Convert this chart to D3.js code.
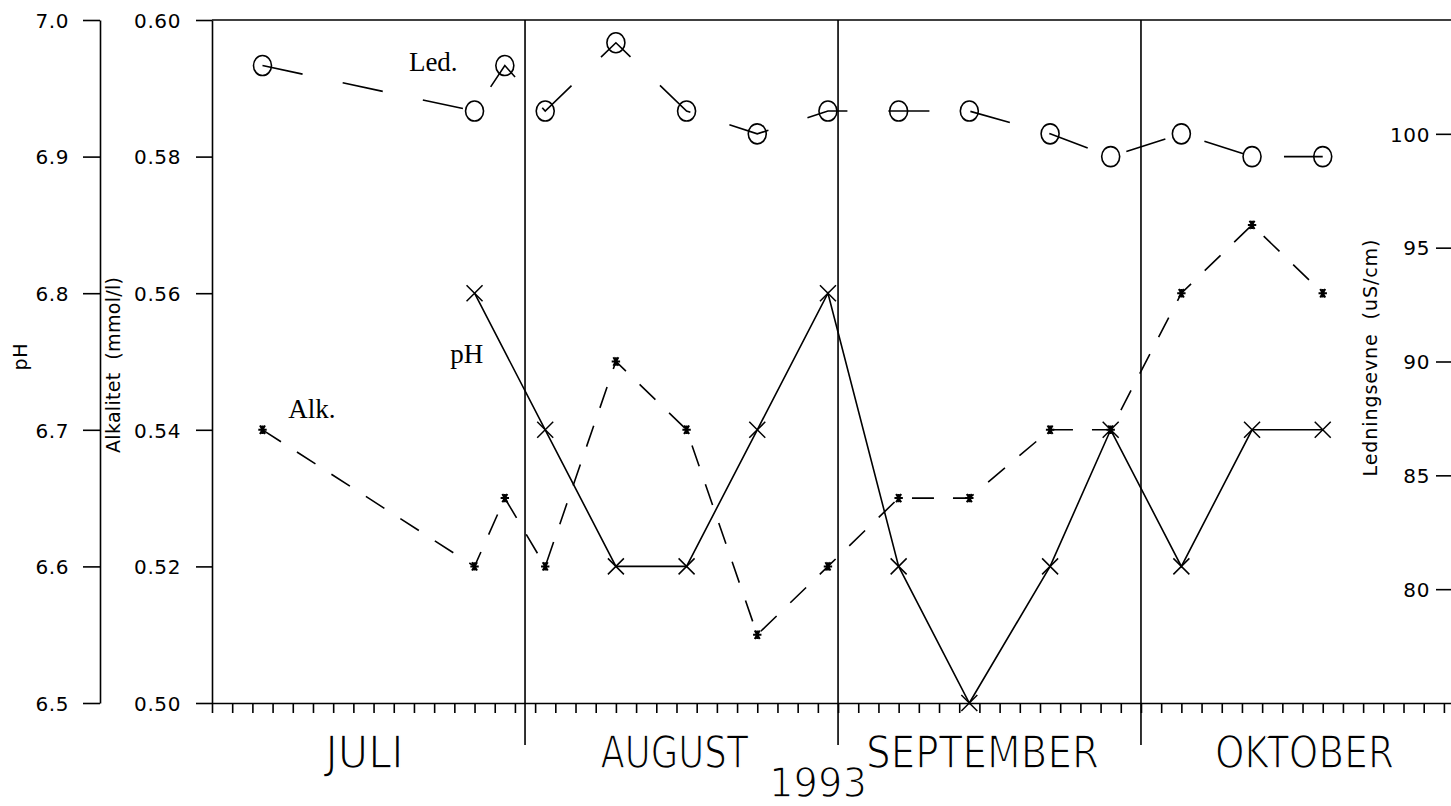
<!DOCTYPE html>
<html>
<head>
<meta charset="utf-8">
<script src="https://cdn.jsdelivr.net/npm/d3@7/dist/d3.min.js"></script>
<style>
  html, body { margin: 0; padding: 0; background: #fff; }
  svg { display: block; }
  .tick text { font-family: "DejaVu Sans", sans-serif; font-size: 20px; letter-spacing: 0.6px; fill: #000; }
  .tick line, .domain { stroke: #000; stroke-width: 1.6; }
</style>
</head>
<body>
<script>
// ---------- data ----------
const sampleDates = ["1993-07-06","1993-07-27","1993-07-30","1993-08-03","1993-08-10","1993-08-17","1993-08-24","1993-08-31",
                     "1993-09-07","1993-09-14","1993-09-22","1993-09-28","1993-10-05","1993-10-12","1993-10-19"];
const phValues  = [null, 6.8, null, 6.7, 6.6, 6.6, 6.7, 6.8, 6.6, 6.5, 6.6, 6.7, 6.6, 6.7, 6.7];
const alkValues = [0.54, 0.52, 0.53, 0.52, 0.55, 0.54, 0.51, 0.52, 0.53, 0.53, 0.54, 0.54, 0.56, 0.57, 0.56];
const ledValues = [103, 101, 103, 101, 104, 101, 100, 101, 101, 101, 100, 99, 100, 99, 99];

const phTicks  = [6.5, 6.6, 6.7, 6.8, 6.9, 7.0];
const alkTicks = [0.50, 0.52, 0.54, 0.56, 0.58, 0.60];
const ledTicks = [80, 85, 90, 95, 100];
const monthStarts = ["1993-07-01","1993-08-01","1993-09-01","1993-10-01","1993-11-01"];
const monthNames  = ["JULI","AUGUST","SEPTEMBER","OKTOBER"];
const yearLabel = "1993";

// ---------- setup ----------
const W = 1451, H = 806;
const parse = d3.timeParse("%Y-%m-%d");
const parseHour = d3.timeParse("%Y-%m-%dT%H");
const rows = sampleDates.map((d, i) => ({date: parse(d), ph: phValues[i], alk: alkValues[i], led: ledValues[i]}));
const months = monthStarts.map(parse);

const svg = d3.select("body").append("svg").attr("width", W).attr("height", H);

const plotTop = 20, plotBottom = 703, plotLeft = 212;
const x = d3.scaleTime().domain([months[0], months[4]]).range([plotLeft, 1454]);
const yPh  = d3.scaleLinear().domain([6.5, 7.0]).range([plotBottom, plotTop]);
const yAlk = d3.scaleLinear().domain([0.50, 0.60]).range([plotBottom, plotTop]);
const yLed = d3.scaleLinear().domain([75, 105]).range([plotBottom, plotTop]);

// ---------- axes ----------
svg.append("g").attr("transform", "translate(100,0)")
  .call(d3.axisLeft(yPh).tickValues(phTicks).tickSize(17).tickSizeOuter(0).tickPadding(14).tickFormat(d3.format(".1f")));
svg.append("g").attr("transform", `translate(${plotLeft},0)`)
  .call(d3.axisLeft(yAlk).tickValues(alkTicks).tickSize(16).tickSizeOuter(0).tickPadding(15).tickFormat(d3.format(".2f")));
const gLed = svg.append("g").attr("transform", "translate(1451,0)")
  .call(d3.axisLeft(yLed).tickValues(ledTicks).tickSize(15).tickSizeOuter(0).tickPadding(6));
gLed.select(".domain").remove();

const dayTicks = d3.timeDay.range(months[0], months[4], 2);
svg.append("g").attr("transform", `translate(0,${plotBottom})`)
  .call(d3.axisBottom(x).tickValues(dayTicks).tickSize(10).tickSizeOuter(0).tickFormat(""));

svg.selectAll("g.tick text").attr("dy", "0.36em");

// top border
svg.append("line").attr("x1", plotLeft).attr("x2", W).attr("y1", plotTop).attr("y2", plotTop)
  .attr("stroke", "#000").attr("stroke-width", 1.6);

// month dividers
svg.append("g").selectAll("line").data(months.slice(1, 4)).join("line")
  .attr("x1", d => x(d)).attr("x2", d => x(d)).attr("y1", plotTop).attr("y2", 745)
  .attr("stroke", "#000").attr("stroke-width", 1.6);

// month labels (thin narrow sans, thinned with a white outline)
const labelWidths = [78, 148, 233, 179];
const labelShift = [-4, -7, -7, 7];
const bigFont = "'Liberation Sans Narrow', 'DejaVu Sans Condensed', sans-serif";
svg.append("g").selectAll("text").data(monthNames).join("text")
  .attr("x", (d, i) => (x(months[i]) + x(months[i + 1])) / 2 + labelShift[i])
  .attr("y", 768)
  .attr("text-anchor", "middle")
  .attr("textLength", (d, i) => labelWidths[i])
  .attr("lengthAdjust", "spacingAndGlyphs")
  .attr("fill", "#000").attr("stroke", "#fff").attr("stroke-width", 1.4)
  .style("font-family", bigFont)
  .style("font-size", "44px")
  .text(d => d);

svg.append("text")
  .attr("x", (x(months[0]) + x(months[4])) / 2 - 15).attr("y", 797)
  .attr("text-anchor", "middle")
  .attr("textLength", 98).attr("lengthAdjust", "spacingAndGlyphs")
  .attr("fill", "#000").attr("stroke", "#fff").attr("stroke-width", 1.3)
  .style("font-family", bigFont)
  .style("font-size", "40px")
  .text(yearLabel);

// axis titles
function vtitle(txt, cx, cy, len) {
  svg.append("text")
    .attr("transform", `translate(${cx},${cy}) rotate(-90)`)
    .attr("text-anchor", "middle")
    .attr("textLength", len).attr("lengthAdjust", "spacing")
    .style("font-family", "'DejaVu Sans', sans-serif")
    .style("font-size", "19px")
    .style("white-space", "pre")
    .text(txt);
}
vtitle("pH", 27, 357, 27);
vtitle("Alkalitet  (mmol/l)", 120, 365, 176);
vtitle("Ledningsevne  (uS/cm)", 1377, 358, 237);

// ---------- series ----------
const lineAlk = d3.line().x(d => x(d.date)).y(d => yAlk(d.alk));
const lineLed = d3.line().x(d => x(d.date)).y(d => yLed(d.led));
const linePh  = d3.line().x(d => x(d.date)).y(d => yPh(d.ph));

svg.append("path").datum(rows).attr("d", lineLed)
  .attr("fill", "none").attr("stroke", "#000").attr("stroke-width", 1.6).attr("stroke-dasharray", "41,41");
svg.append("path").datum(rows).attr("d", lineAlk)
  .attr("fill", "none").attr("stroke", "#000").attr("stroke-width", 1.6).attr("stroke-dasharray", "22,19");
svg.append("path").datum(rows.filter(d => d.ph != null)).attr("d", linePh)
  .attr("fill", "none").attr("stroke", "#000").attr("stroke-width", 1.6);

// markers: Led circles
svg.append("g").selectAll("ellipse").data(rows).join("ellipse")
  .attr("cx", d => x(d.date)).attr("cy", d => yLed(d.led))
  .attr("rx", 9).attr("ry", 10)
  .attr("fill", "none").attr("stroke", "#000").attr("stroke-width", 1.6);

// pH crosses
const cr = 8;
svg.append("g").selectAll("path").data(rows.filter(d => d.ph != null)).join("path")
  .attr("transform", d => `translate(${x(d.date)},${yPh(d.ph)})`)
  .attr("d", `M${-cr},${-cr}L${cr},${cr}M${-cr},${cr}L${cr},${-cr}`)
  .attr("stroke", "#000").attr("stroke-width", 1.5).attr("fill", "none");

// Alk stars
const s = 4.2;
svg.append("g").selectAll("path").data(rows).join("path")
  .attr("transform", d => `translate(${x(d.date)},${yAlk(d.alk)})`)
  .attr("d", `M${-s},0L${s},0M${-s*0.6},${-s}L${s*0.6},${s}M${-s*0.6},${s}L${s*0.6},${-s}M0,${-s}L0,${s}`)
  .attr("stroke", "#000").attr("stroke-width", 2).attr("fill", "none");

// series annotations
const annotations = [
  {text: "Led.", date: "1993-07-20T12", value: 102.75, scale: yLed},
  {text: "pH",   date: "1993-07-24T14", value: 6.749, scale: yPh},
  {text: "Alk.", date: "1993-07-08T13", value: 0.5417, scale: yAlk}
];
svg.append("g").selectAll("text").data(annotations).join("text")
  .attr("x", d => x(parseHour(d.date)))
  .attr("y", d => d.scale(d.value))
  .style("font-family", "'Liberation Serif', 'DejaVu Serif', serif")
  .style("font-size", "27px")
  .text(d => d.text);
</script>
</body>
</html>
